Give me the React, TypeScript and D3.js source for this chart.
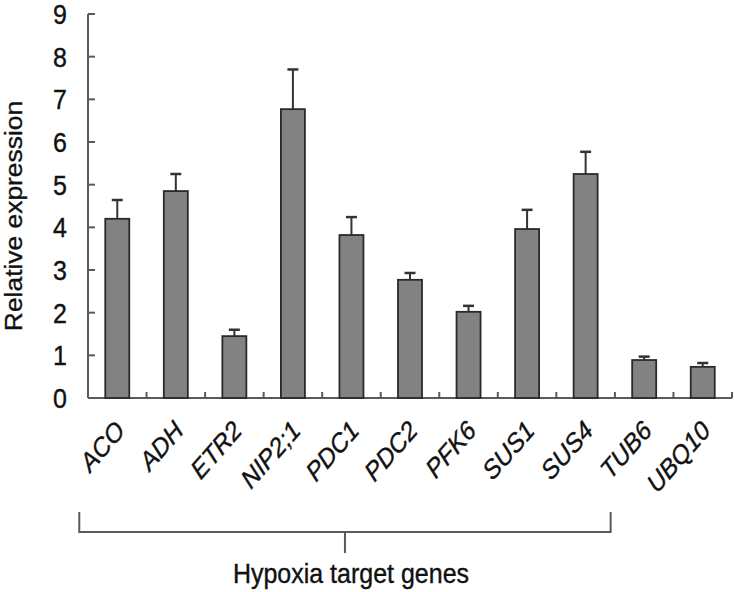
import * as d3 from "d3";

const GENES = ["ACO", "ADH", "ETR2", "NIP2;1", "PDC1", "PDC2", "PFK6", "SUS1", "SUS4", "TUB6", "UBQ10"];
const MEANS = [4.2, 4.85, 1.45, 6.77, 3.82, 2.77, 2.02, 3.96, 5.25, 0.89, 0.73];
const ERRORS = [0.44, 0.4, 0.15, 0.93, 0.42, 0.16, 0.14, 0.45, 0.52, 0.08, 0.09];
const Y_TICKS = [0, 1, 2, 3, 4, 5, 6, 7, 8, 9];
const GROUP_FIRST = "ACO";
const GROUP_LAST = "SUS4";
const GROUP_LABEL = "Hypoxia target genes";

const W = 734;
const H = 592;
const FONT = "'Liberation Sans', Arial, sans-serif";
const AXIS_COLOR = "#5a5a5a";
const BAR_FILL = "#828282";
const BAR_STROKE = "#2a2a2a";
const TEXT_COLOR = "#111";
// the original figure is a little stretched vertically
const STRETCH = 1.1;

export default function App() {
    const x = d3.scaleBand().domain(GENES).range([88, 732]).paddingInner(0).paddingOuter(0);
    const y = d3.scaleLinear().domain([0, 9]).range([398, 14]);
    const bw = x.bandwidth();
    const barW = bw * 0.41;
    const mid = (g: string) => (x(g) ?? 0) + bw / 2;

    const data = GENES.map((g, i) => ({ gene: g, mean: MEANS[i], err: ERRORS[i] }));

    const brLeft = mid(GROUP_FIRST) - 38;
    const brRight = mid(GROUP_LAST) + 25;
    const brMid = (brLeft + brRight) / 2;

    // slightly heavier glyphs, like the scanned figure
    const textStyle = { fontFamily: FONT, fill: TEXT_COLOR, stroke: TEXT_COLOR, strokeWidth: 0.35 };

    return (
        <svg width={W} height={H} style={{ position: "absolute", left: 0, top: 0, background: "#fff" }}>
            {/* y axis */}
            <line x1={88} x2={88} y1={y(9)} y2={y(0)} stroke={AXIS_COLOR} strokeWidth={2} />
            {Y_TICKS.map((t) => (
                <g key={t}>
                    <line x1={88} x2={95} y1={y(t)} y2={y(t)} stroke={AXIS_COLOR} strokeWidth={2} />
                    <text
                        transform={`translate(67,${y(t)}) scale(1,${STRETCH})`}
                        dy="0.36em"
                        textAnchor="end"
                        fontSize={25}
                        style={textStyle}
                    >
                        {t}
                    </text>
                </g>
            ))}
            <text
                transform={`translate(22,${216}) rotate(-90) scale(${STRETCH},1)`}
                textAnchor="middle"
                fontSize={24}
                style={textStyle}
            >
                Relative expression
            </text>

            {/* x axis */}
            <line x1={88} x2={732} y1={y(0)} y2={y(0)} stroke={AXIS_COLOR} strokeWidth={2} />
            {GENES.map((g) => (
                <line
                    key={g}
                    x1={(x(g) ?? 0) + bw}
                    x2={(x(g) ?? 0) + bw}
                    y1={y(0)}
                    y2={y(0) - 6}
                    stroke={AXIS_COLOR}
                    strokeWidth={2}
                />
            ))}

            {/* bars + error bars */}
            {data.map((d) => {
                const cx = mid(d.gene);
                const top = y(d.mean + d.err);
                return (
                    <g key={d.gene}>
                        <line x1={cx} x2={cx} y1={y(d.mean)} y2={top} stroke="#333" strokeWidth={2} />
                        <line x1={cx - 5.5} x2={cx + 5.5} y1={top} y2={top} stroke="#333" strokeWidth={2.5} />
                        <rect
                            x={cx - barW / 2}
                            y={y(d.mean)}
                            width={barW}
                            height={y(0) - y(d.mean)}
                            fill={BAR_FILL}
                            stroke={BAR_STROKE}
                            strokeWidth={1.8}
                        />
                    </g>
                );
            })}

            {/* category labels */}
            {GENES.map((g) => (
                <text
                    key={g}
                    transform={`translate(${mid(g) + 9},${432}) scale(1,${STRETCH}) rotate(-46)`}
                    textAnchor="end"
                    fontStyle="italic"
                    fontSize={24}
                    style={textStyle}
                >
                    {g}
                </text>
            ))}

            {/* group bracket */}
            <path
                d={`M${brLeft},512 V532 H${brRight} V512 M${brMid},532 V553`}
                fill="none"
                stroke={AXIS_COLOR}
                strokeWidth={2}
            />
            <text
                transform={`translate(${brMid + 6},583) scale(1,${STRETCH})`}
                textAnchor="middle"
                fontSize={25}
                style={textStyle}
            >
                {GROUP_LABEL}
            </text>
        </svg>
    );
}
